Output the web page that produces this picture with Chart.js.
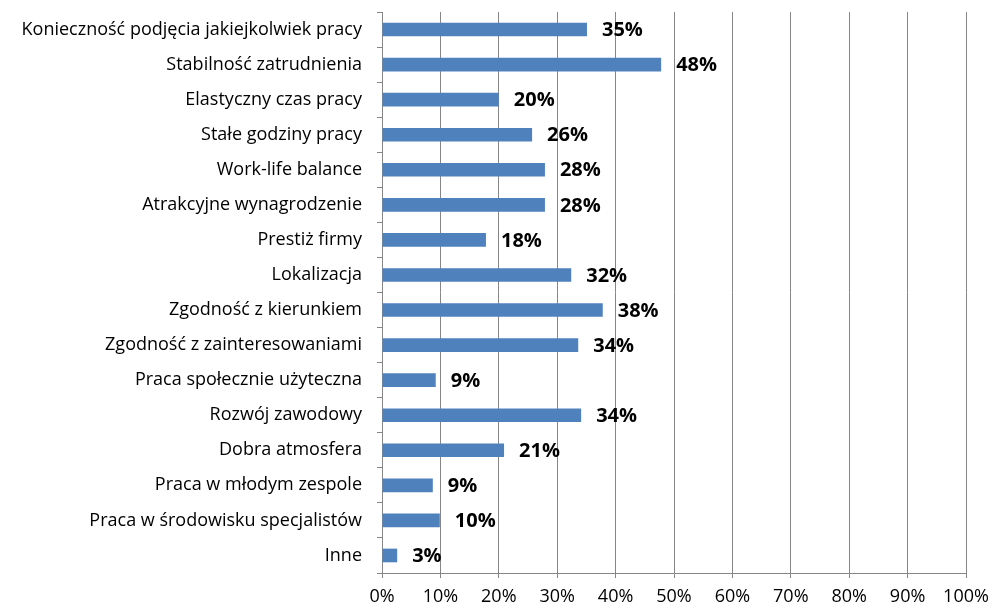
<!DOCTYPE html>
<html>
<head>
<meta charset="utf-8">
<script src="https://cdn.jsdelivr.net/npm/chart.js@4"></script>
<style>
  html, body { margin: 0; padding: 0; background: #fff; }
  #wrap { width: 992px; height: 609px; }
</style>
</head>
<body>
<div id="wrap"><canvas id="grafica"></canvas></div>
<script>
// categorias (de arriba a abajo)
const kategorie = [
  'Konieczność podjęcia jakiejkolwiek pracy',
  'Stabilność zatrudnienia',
  'Elastyczny czas pracy',
  'Stałe godziny pracy',
  'Work-life balance',
  'Atrakcyjne wynagrodzenie',
  'Prestiż firmy',
  'Lokalizacja',
  'Zgodność z kierunkiem',
  'Zgodność z zainteresowaniami',
  'Praca społecznie użyteczna',
  'Rozwój zawodowy',
  'Dobra atmosfera',
  'Praca w młodym zespole',
  'Praca w środowisku specjalistów',
  'Inne'
];
const wartosci = [35.1, 47.8, 20.0, 25.7, 27.9, 27.9, 17.8, 32.4, 37.8, 33.6, 9.2, 34.1, 20.9, 8.7, 9.9, 2.6];
const osX = [0, 10, 20, 30, 40, 50, 60, 70, 80, 90, 100];

const FONT = '"Open Sans", sans-serif';
const GRIS = '#868686';

// etiquetas de datos a la derecha de cada barra
const etiquetas = {
  id: 'etiquetas',
  afterDatasetsDraw(chart) {
    const ctx = chart.ctx;
    const meta = chart.getDatasetMeta(0);
    ctx.save();
    ctx.font = 'bold 20px ' + FONT;
    ctx.fillStyle = '#000';
    ctx.textAlign = 'left';
    ctx.textBaseline = 'middle';
    meta.data.forEach((bar, i) => {
      ctx.fillText(Math.round(wartosci[i]) + '%', bar.x + 15, bar.y + 1);
    });
    ctx.restore();
  }
};

new Chart(document.getElementById('grafica').getContext('2d'), {
  type: 'bar',
  data: {
    labels: kategorie,
    datasets: [{
      data: wartosci,
      backgroundColor: '#4F81BD',
      borderWidth: 0,
      barPercentage: 0.39,
      categoryPercentage: 1
    }]
  },
  options: {
    indexAxis: 'y',
    responsive: true,
    maintainAspectRatio: false,
    animation: false,
    layout: { padding: { top: 12, right: 26, left: 0, bottom: 0 } },
    plugins: {
      legend: { display: false },
      tooltip: { enabled: false }
    },
    scales: {
      x: {
        min: 0,
        max: 100,
        afterBuildTicks: scale => { scale.ticks = osX.map(v => ({ value: v })); },
        afterFit: scale => {
          scale.height = 36;
          scale.paddingLeft = 0;
          scale.paddingRight = 0;
        },
        ticks: {
          callback: v => v + '%',
          color: '#000',
          font: { family: FONT, size: 18 },
          padding: 8,
          maxRotation: 0
        },
        grid: { color: GRIS, lineWidth: 1, tickLength: 5, tickColor: GRIS },
        border: { color: GRIS, width: 1 }
      },
      y: {
        afterFit: scale => {
          scale.width = 382;
          scale.paddingTop = 0;
          scale.paddingBottom = 0;
        },
        ticks: {
          color: '#000',
          font: { family: FONT, size: 18 },
          padding: 15,
          autoSkip: false
        },
        grid: { drawOnChartArea: false, tickLength: 5, tickColor: GRIS, color: GRIS },
        border: { color: GRIS, width: 1 }
      }
    }
  },
  plugins: [etiquetas]
});
</script>
</body>
</html>
